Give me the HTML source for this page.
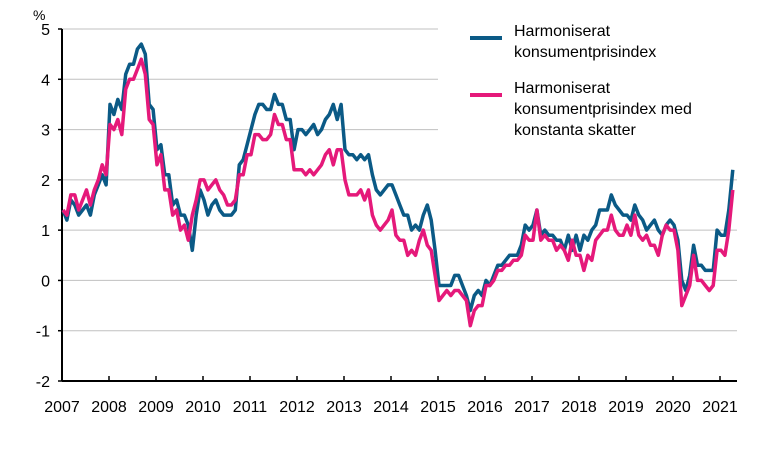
<!DOCTYPE html>
<html><head><meta charset="utf-8"><style>
body{margin:0;background:#fff;}
svg text{font-family:"Liberation Sans",Arial,sans-serif;fill:#000;}
</style></head><body>
<svg width="772" height="445">
<g id="grid"></g>
<g id="axes"></g>
<g id="series"></g>
<text x="33" y="20" font-size="14">%</text>
<g>
<line x1="470" y1="38" x2="502" y2="38" stroke="#0b5a86" stroke-width="4"/>
<text x="514" y="36" font-size="16"><tspan x="514">Harmoniserat</tspan><tspan x="514" dy="21">konsumentprisindex</tspan></text>
<line x1="470" y1="95" x2="502" y2="95" stroke="#e5197a" stroke-width="4"/>
<text x="514" y="93" font-size="16"><tspan x="514">Harmoniserat</tspan><tspan x="514" dy="21">konsumentprisindex med</tspan><tspan x="514" dy="21">konstanta skatter</tspan></text>
</g>
</svg>
<script>
const years=["2007","2008","2009","2010","2011","2012","2013","2014","2015","2016","2017","2018","2019","2020","2021"];
const yTicks=[-2,-1,0,1,2,3,4,5];
const hicp=[1.4,1.2,1.6,1.5,1.3,1.4,1.5,1.3,1.7,1.9,2.1,1.9,
3.5,3.3,3.6,3.4,4.1,4.3,4.3,4.6,4.7,4.5,3.5,3.4,
2.6,2.7,2.1,2.1,1.5,1.6,1.3,1.3,1.1,0.6,1.3,1.8,
1.6,1.3,1.5,1.6,1.4,1.3,1.3,1.3,1.4,2.3,2.4,2.7,
3.0,3.3,3.5,3.5,3.4,3.4,3.7,3.5,3.5,3.2,3.2,2.6,
3.0,3.0,2.9,3.0,3.1,2.9,3.0,3.2,3.3,3.5,3.2,3.5,
2.6,2.5,2.5,2.4,2.5,2.4,2.5,2.1,1.8,1.7,1.8,1.9,
1.9,1.7,1.5,1.3,1.3,1.0,1.1,1.0,1.3,1.5,1.2,0.6,
-0.1,-0.1,-0.1,-0.1,0.1,0.1,-0.1,-0.3,-0.6,-0.3,-0.2,-0.3,
0.0,-0.1,0.1,0.3,0.3,0.4,0.5,0.5,0.5,0.7,1.1,1.0,
1.1,1.4,0.9,1.0,0.9,0.9,0.8,0.8,0.6,0.9,0.6,0.9,
0.6,0.9,0.8,1.0,1.1,1.4,1.4,1.4,1.7,1.5,1.4,1.3,
1.3,1.2,1.5,1.3,1.2,1.0,1.1,1.2,1.0,0.9,1.1,1.2,
1.1,0.8,0.0,-0.2,0.1,0.7,0.3,0.3,0.2,0.2,0.2,1.0,
0.9,0.9,1.4,2.2];
const hicpCT=[1.4,1.3,1.7,1.7,1.4,1.6,1.8,1.5,1.8,2.0,2.3,2.1,
3.1,3.0,3.2,2.9,3.8,4.0,4.0,4.2,4.4,4.1,3.2,3.1,
2.3,2.5,1.8,1.8,1.3,1.4,1.0,1.1,0.8,1.3,1.6,2.0,
2.0,1.8,1.9,2.0,1.8,1.7,1.5,1.5,1.6,2.1,2.1,2.5,
2.5,2.9,2.9,2.8,2.8,2.9,3.3,3.1,3.1,2.8,2.8,2.2,
2.2,2.2,2.1,2.2,2.1,2.2,2.3,2.5,2.6,2.3,2.6,2.6,
2.0,1.7,1.7,1.7,1.8,1.6,1.8,1.3,1.1,1.0,1.1,1.2,
1.4,0.9,0.8,0.8,0.5,0.6,0.5,0.8,1.0,0.7,0.6,0.1,
-0.4,-0.3,-0.2,-0.3,-0.2,-0.2,-0.3,-0.4,-0.9,-0.6,-0.5,-0.5,
-0.1,-0.1,0.0,0.2,0.2,0.3,0.3,0.4,0.4,0.5,0.9,0.8,
0.8,1.4,0.8,0.9,0.8,0.8,0.6,0.7,0.6,0.4,0.8,0.5,
0.5,0.2,0.5,0.4,0.8,0.9,1.0,1.0,1.3,1.0,0.9,0.9,
1.1,0.9,1.3,0.9,0.8,0.9,0.7,0.7,0.5,0.9,1.1,1.0,
1.0,0.6,-0.5,-0.3,-0.1,0.5,0.0,0.0,-0.1,-0.2,-0.1,0.6,
0.6,0.5,1.0,1.8];
const NS="http://www.w3.org/2000/svg";
const X0=62,YW=47,Y5=29,YM2=381;
function xs(i){return X0+1+i*YW/12;}
function ys(v){return Y5+(5-v)*(YM2-Y5)/7;}
function mk(t,a,p){const e=document.createElementNS(NS,t);for(const k in a)e.setAttribute(k,a[k]);p.appendChild(e);return e;}
const grid=document.getElementById('grid'),axes=document.getElementById('axes'),ser=document.getElementById('series');
yTicks.forEach(v=>{
 if(v>-2){const l=mk('line',{x1:X0,x2:v>=3?438:737,y1:ys(v),y2:ys(v),stroke:'#c0c0c0','stroke-width':1},grid);
 
 }
 const tk=mk('line',{x1:X0-4,x2:X0,y1:ys(v),y2:ys(v),stroke:'#000','stroke-width':1.5},axes);
 
 
 const t=mk('text',{x:50,y:ys(v)+6,'font-size':16,'text-anchor':'end'},axes);t.textContent=v;
 
 
});
let yl=mk('line',{x1:X0,x2:X0,y1:Y5,y2:YM2,stroke:'#000','stroke-width':2},axes);


let xl=mk('line',{x1:X0,x2:737,y1:YM2,y2:YM2,stroke:'#000','stroke-width':2},axes);


years.forEach((y,i)=>{const x=X0+i*YW;
 const tk=mk('line',{x1:x,x2:x,y1:YM2-5,y2:YM2,stroke:'#000','stroke-width':1.5},axes);
 
 
 const t=mk('text',{x:x,y:412,'font-size':16,'text-anchor':'middle'},axes);t.textContent=y;
 
 
});
function line(d,c,n){const p=mk('polyline',{points:d.map((v,i)=>xs(i).toFixed(1)+','+ys(v).toFixed(1)).join(' '),fill:'none',stroke:c,'stroke-width':3.5,'stroke-linejoin':'round'},ser);
 
 }
line(hicp,'#0b5a86','line-hicp');
line(hicpCT,'#e5197a','line-hicp-constant-taxes');
</script>
</body></html>
